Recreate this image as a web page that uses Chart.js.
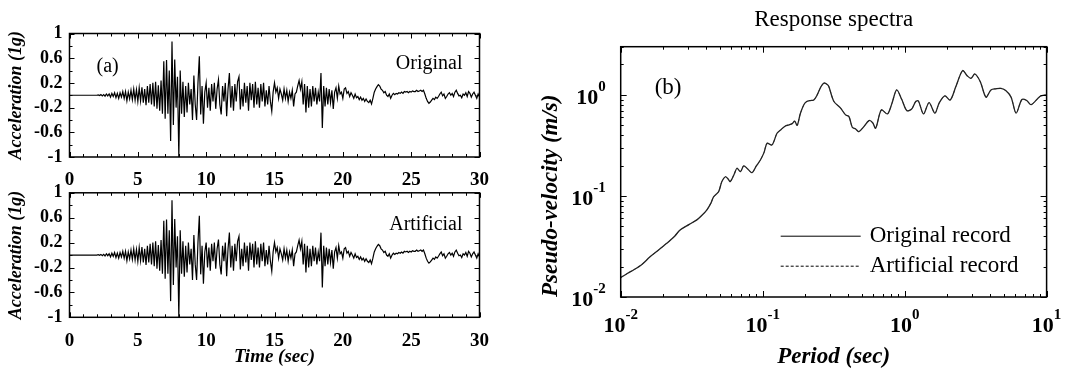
<!DOCTYPE html>
<html>
<head>
<meta charset="utf-8">
<script src="https://cdn.jsdelivr.net/npm/chart.js@4.4.1/dist/chart.umd.min.js"></script>
<style>
  html, body { margin: 0; padding: 0; background: #fff; }
  #wrap { position: relative; width: 1065px; height: 375px; overflow: hidden; }
  canvas { position: absolute; }
</style>
</head>
<body>
<div id="wrap">
  <canvas id="accTop" width="510" height="195" style="left:0;top:0"></canvas>
  <canvas id="accBottom" width="510" height="200" style="left:0;top:175px"></canvas>
  <canvas id="spectrum" width="565" height="375" style="left:500px;top:0"></canvas>
</div>
<script>
// ---- data ----
const timeStep = 0.1; // s, sample spacing of the acceleration records

const originalAcc = [
  0, 0, 0, 0, 0, 0, 0, 0, 0, 0,
  0, 0, 0, 0, 0, 0, 0, 0, 0, 0,
  0, 0.005, -0.005, 0.01, -0.01, 0.01, -0.015, 0.02, -0.01, 0.02,
  -0.03, 0.03, -0.02, 0.04, -0.04, 0.03, -0.05, 0.04, -0.03, 0.06,
  -0.05, 0.06, -0.09, 0.05, -0.06, 0.08, -0.07, 0.1, -0.08, 0.09,
  -0.1, 0.12, -0.09, 0.13, -0.12, 0.1, -0.16, 0.15, -0.12, 0.18,
  -0.15, 0.2, -0.18, 0.22, -0.22, 0.16, -0.25, 0.24, -0.3, 0.55,
  -0.38, 0.57, -0.3, 0.4, -0.74, 0.87, -0.48, 0.58, -0.2, 0.3,
  -1.0, 0.4, -0.3, 0.22, -0.35, 0.15, -0.28, 0.2, -0.15, 0.1,
  -0.4, 0.32, -0.15, -0.4, 0.2, 0.63, -0.31, 0.15, -0.46, 0.05,
  0.2, -0.2, 0.12, -0.25, 0.18, -0.1, 0.2, -0.22, 0.1, 0.25,
  -0.15, -0.31, 0.15, -0.1, 0.2, -0.34, 0.1, 0.36, -0.2, 0.15,
  -0.25, 0.18, -0.1, 0.22, 0.3, -0.23, 0.1, -0.18, 0.2, -0.12,
  0.15, -0.25, 0.2, -0.08, 0.18, -0.2, 0.22, -0.15, 0.12, -0.2,
  0.18, -0.1, 0.2, -0.18, 0.08, -0.15, 0.15, -0.1, -0.26, 0.05,
  0.2, 0.05, 0.12, -0.05, 0.1, 0.02, -0.08, 0.1, -0.05, 0.08,
  -0.1, 0.05, -0.05, 0.08, -0.18, 0.02, 0.05, 0.15, 0.24, 0.1,
  0.22, -0.15, 0.18, -0.28, 0.15, -0.2, 0.1, -0.18, 0.15, -0.1,
  0.12, -0.15, 0.05, -0.1, 0.36, -0.53, 0.15, -0.18, 0.12, -0.15,
  0.1, -0.12, 0.08, -0.22, 0.05, 0.12, -0.05, 0.15, 0.02, 0.05,
  -0.05, 0.1, 0.12, 0.03, 0.06, -0.02, 0.04, 0, -0.05, 0.02,
  -0.04, -0.02, -0.07, -0.03, -0.08, -0.05, -0.1, -0.06, -0.1, -0.12,
  -0.08, -0.14, -0.05, 0.05, 0.1, 0.14, 0.17, 0.15, 0.1, 0.08,
  0.04, 0.06, 0, -0.02, 0.02, -0.05, 0, 0.03, 0.01, 0.03,
  0.02, 0.04, 0.03, 0.05, 0.03, 0.06, 0.05, 0.06, 0.04, 0.06,
  0.05, 0.07, 0.06, 0.06, 0.08, 0.06, 0.07, 0.08, 0.06, 0.08,
  0.02, -0.05, -0.1, -0.13, -0.11, -0.08, -0.05, -0.07, -0.03, -0.05,
  -0.02, 0.02, 0.05, -0.01, 0.02, -0.05, -0.02, 0.02, 0.04, 0,
  0.03, -0.02, 0.05, 0.08, 0.03, -0.01, 0, -0.04, 0.02, 0,
  0.04, -0.02, 0.06, 0.03, -0.03, 0.02, 0.05, 0, -0.05, 0.02,
  -0.03
];

const artificialAcc = [
  0, 0, 0, 0, 0, 0, 0, 0, 0, 0,
  0, 0, 0, 0, 0, 0, 0, 0, 0, 0,
  0, 0.005, -0.005, 0.01, -0.01, 0.012, -0.015, 0.02, -0.01, 0.02,
  -0.03, 0.03, -0.02, 0.04, -0.04, 0.03, -0.05, 0.04, -0.03, 0.06,
  -0.05, 0.06, -0.09, 0.05, -0.06, 0.08, -0.07, 0.1, -0.08, 0.09,
  -0.1, 0.12, -0.09, 0.13, -0.12, 0.1, -0.16, 0.15, -0.12, 0.18,
  -0.15, 0.2, -0.18, 0.22, -0.22, 0.16, -0.25, 0.24, -0.3, 0.55,
  -0.38, 0.57, -0.3, 0.4, -0.74, 0.88, -0.48, 0.58, -0.2, 0.3,
  -1.0, 0.4, -0.3, 0.22, -0.35, 0.15, -0.28, 0.2, -0.15, 0.1,
  -0.4, 0.32, -0.15, -0.4, 0.2, 0.63, -0.31, 0.15, -0.46, 0.05,
  0.2, -0.2, 0.12, -0.25, 0.18, -0.1, 0.2, -0.22, 0.1, 0.25,
  -0.15, -0.31, 0.15, -0.1, 0.2, -0.34, 0.1, 0.36, -0.2, 0.15,
  -0.25, 0.18, -0.1, 0.22, 0.3, -0.23, 0.1, -0.18, 0.2, -0.12,
  0.15, -0.25, 0.2, -0.08, 0.18, -0.2, 0.22, -0.15, 0.12, -0.2,
  0.18, -0.1, 0.2, -0.18, 0.08, -0.15, 0.15, -0.1, -0.26, 0.05,
  0.2, 0.05, 0.12, -0.05, 0.1, 0.02, -0.08, 0.1, -0.05, 0.08,
  -0.1, 0.05, -0.05, 0.08, -0.18, 0.02, 0.05, 0.15, 0.24, 0.1,
  0.22, -0.15, 0.18, -0.28, 0.15, -0.2, 0.1, -0.18, 0.15, -0.1,
  0.12, -0.15, 0.05, -0.1, 0.36, -0.52, 0.15, -0.18, 0.12, -0.15,
  0.1, -0.12, 0.08, -0.22, 0.05, 0.12, -0.05, 0.15, 0.02, 0.05,
  -0.05, 0.1, 0.12, 0.03, 0.06, -0.02, 0.04, 0, -0.05, 0.02,
  -0.04, -0.02, -0.07, -0.03, -0.08, -0.05, -0.1, -0.06, -0.1, -0.12,
  -0.08, -0.14, -0.05, 0.05, 0.1, 0.14, 0.17, 0.15, 0.1, 0.08,
  0.04, 0.06, 0, -0.02, 0.02, -0.05, 0, 0.03, 0.01, 0.03,
  0.02, 0.04, 0.03, 0.05, 0.03, 0.06, 0.05, 0.06, 0.04, 0.06,
  0.05, 0.07, 0.06, 0.06, 0.08, 0.06, 0.07, 0.08, 0.06, 0.08,
  0.02, -0.05, -0.1, -0.13, -0.11, -0.08, -0.05, -0.07, -0.03, -0.05,
  -0.02, 0.02, 0.05, -0.01, 0.02, -0.05, -0.02, 0.02, 0.04, 0,
  0.03, -0.02, 0.05, 0.08, 0.03, -0.01, 0, -0.04, 0.02, 0,
  0.04, -0.02, 0.06, 0.03, -0.03, 0.02, 0.05, 0, -0.05, 0.02,
  -0.03
];

const timeTicks = [0, 5, 10, 15, 20, 25, 30];
const accTicks = [-1, -0.6, -0.2, 0.2, 0.6, 1];

// response spectrum, period (s) vs pseudo-velocity (m/s)
const periods = [
  0.01, 0.0112, 0.0123, 0.0141, 0.0161, 0.0184, 0.0211, 0.024, 0.0262, 0.0302,
  0.0344, 0.0372, 0.0405, 0.0432, 0.0451, 0.0489, 0.0516, 0.0546, 0.0569, 0.0592,
  0.0631, 0.0659, 0.0697, 0.0735, 0.0785, 0.0841, 0.0902, 0.0964, 0.1023, 0.1074,
  0.1164, 0.1262, 0.1349, 0.1445, 0.1531, 0.1614, 0.1679, 0.175, 0.184, 0.195,
  0.2042, 0.2163, 0.2291, 0.2421, 0.257, 0.2698, 0.2851, 0.2924, 0.3177, 0.354,
  0.3837, 0.4055, 0.4276, 0.4519, 0.4764, 0.5129, 0.561, 0.5957, 0.6252, 0.6855,
  0.7568, 0.8128, 0.879, 0.955, 1.035, 1.117, 1.197, 1.25, 1.358, 1.486,
  1.633, 1.75, 1.919, 2.094, 2.296, 2.559, 2.754, 2.931, 3.126, 3.412,
  3.741, 4.055, 4.395, 4.775, 5.176, 5.623, 6.095, 6.699, 7.244, 7.78,
  9.016, 10
];
const psvOriginal = [
  0.0155, 0.0172, 0.0185, 0.021, 0.025, 0.029, 0.034, 0.040, 0.046, 0.052,
  0.058, 0.064, 0.073, 0.085, 0.098, 0.110, 0.139, 0.155, 0.148, 0.139,
  0.165, 0.188, 0.174, 0.198, 0.185, 0.170, 0.198, 0.227, 0.27, 0.332,
  0.320, 0.417, 0.455, 0.493, 0.505, 0.52, 0.55, 0.50, 0.65, 0.80,
  0.86, 0.88, 0.89, 1.0, 1.2, 1.31, 1.27, 1.21, 0.86, 0.74,
  0.634, 0.61, 0.479, 0.46, 0.433, 0.48, 0.557, 0.53, 0.468, 0.71,
  0.648, 0.82, 1.12, 0.9, 0.70, 0.72, 0.86, 0.87, 0.648, 0.84,
  0.66, 0.83, 0.98, 0.89, 1.21, 1.74, 1.55, 1.46, 1.61, 1.35,
  0.95, 1.12, 1.15, 1.16, 1.1, 0.95, 0.66, 0.9, 0.88, 0.8,
  0.97, 1.0
];
const psvArtificial = [
  0.0156, 0.0172, 0.0185, 0.021, 0.025, 0.029, 0.034, 0.040, 0.046, 0.052,
  0.058, 0.064, 0.073, 0.085, 0.098, 0.110, 0.139, 0.155, 0.148, 0.139,
  0.165, 0.188, 0.174, 0.198, 0.185, 0.170, 0.198, 0.227, 0.27, 0.332,
  0.320, 0.417, 0.455, 0.493, 0.505, 0.52, 0.55, 0.50, 0.65, 0.80,
  0.86, 0.88, 0.89, 1.0, 1.2, 1.31, 1.27, 1.21, 0.86, 0.74,
  0.634, 0.61, 0.479, 0.46, 0.433, 0.48, 0.557, 0.53, 0.468, 0.71,
  0.648, 0.82, 1.12, 0.9, 0.70, 0.72, 0.86, 0.87, 0.648, 0.84,
  0.66, 0.83, 0.98, 0.89, 1.21, 1.74, 1.55, 1.46, 1.61, 1.35,
  0.95, 1.12, 1.15, 1.16, 1.1, 0.95, 0.66, 0.9, 0.88, 0.8,
  0.97, 1.0
];
const periodTicks = [0.01, 0.1, 1, 10];
const psvTicks = [0.01, 0.1, 1];

// ---- helpers ----
const SERIF = "'Liberation Serif', 'Times New Roman', Times, serif";

// inward tick marks on all four sides plus the box
function framePlugin(xMarks, yMarks) {
  return {
    id: 'frame',
    afterDatasetsDraw(chart) {
      const { ctx, chartArea: a } = chart;
      const x = chart.scales.x, y = chart.scales.y;
      ctx.save();
      ctx.strokeStyle = '#000';
      ctx.lineWidth = 1;
      ctx.beginPath();
      xMarks.forEach(([v, len]) => {
        const px = Math.round(x.getPixelForValue(v)) + 0.5;
        ctx.moveTo(px, a.bottom); ctx.lineTo(px, a.bottom - len);
        ctx.moveTo(px, a.top); ctx.lineTo(px, a.top + len);
      });
      yMarks.forEach(([v, len]) => {
        const py = Math.round(y.getPixelForValue(v)) + 0.5;
        ctx.moveTo(a.left, py); ctx.lineTo(a.left + len, py);
        ctx.moveTo(a.right, py); ctx.lineTo(a.right - len, py);
      });
      ctx.stroke();
      ctx.lineWidth = 1.5;
      ctx.strokeRect(a.left, a.top, a.right - a.left, a.bottom - a.top);
      ctx.restore();
    }
  };
}

function textPlugin(items) {
  return {
    id: 'panelText',
    afterDraw(chart) {
      const { ctx, chartArea: a } = chart;
      ctx.save();
      ctx.fillStyle = '#000';
      ctx.textBaseline = 'alphabetic';
      items.forEach(it => {
        ctx.font = it.font;
        ctx.textAlign = it.align || 'left';
        ctx.fillText(it.text, it.x(a), it.y(a));
      });
      ctx.restore();
    }
  };
}

// nudge layout padding until the plot box sits where the figure has it
function pinArea(chart, pad, want) {
  for (let i = 0; i < 4; i++) {
    const a = chart.chartArea;
    pad.left += want.left - a.left;
    pad.top += want.top - a.top;
    pad.right += a.right - want.right;
    pad.bottom += a.bottom - want.bottom;
    chart.update('none');
  }
}

const linMarksX = [];
for (let t = 0; t <= 30; t++) linMarksX.push([t, t % 5 === 0 ? 5 : 3]);
const linMarksY = [];
for (let k = -5; k <= 5; k++) {
  const v = Math.round(k * 0.2 * 10) / 10;
  linMarksY.push([v, accTicks.includes(v) ? 5 : 3]);
}

function accChart(id, values, label, showTitle, want) {
  const pad = { left: 0, top: 0, right: 0, bottom: 0 };
  const chart = new Chart(document.getElementById(id), {
    type: 'line',
    data: {
      datasets: [{
        label: label,
        data: values.map((a, i) => ({ x: Math.round(i * timeStep * 10) / 10, y: a })),
        borderColor: '#000',
        borderWidth: 1.2,
        pointRadius: 0,
        tension: 0
      }]
    },
    options: {
      responsive: false,
      animation: false,
      events: [],
      layout: { padding: pad },
      plugins: { legend: { display: false }, tooltip: { enabled: false } },
      scales: {
        x: {
          type: 'linear', min: 0, max: 30,
          afterBuildTicks: s => { s.ticks = timeTicks.map(v => ({ value: v })); },
          afterFit: s => { s.height = showTitle ? 58 : 38; },
          grid: { display: false, drawTicks: false },
          border: { display: false },
          ticks: { autoSkip: false, maxRotation: 0, padding: 12, color: '#000',
                   font: { family: SERIF, size: 19, weight: 'bold' } },
          title: { display: showTitle, text: 'Time (sec)', color: '#000',
                   padding: { top: 0, bottom: 7 },
                   font: { family: SERIF, size: 19, weight: 'bold', style: 'italic' } }
        },
        y: {
          min: -1, max: 1,
          afterBuildTicks: s => { s.ticks = accTicks.map(v => ({ value: v })); },
          afterFit: s => { s.width = 69.5; },
          grid: { display: false, drawTicks: false },
          border: { display: false },
          ticks: { autoSkip: false, padding: 7, color: '#000',
                   callback: v => String(v),
                   font: { family: SERIF, size: 18, weight: 'bold' } },
          title: { display: true, text: 'Acceleration (1g)', color: '#000',
                   padding: { top: 6, bottom: 0 },
                   font: { family: SERIF, size: 18, weight: 'bold', style: 'italic' } }
        }
      }
    },
    plugins: [
      framePlugin(linMarksX, linMarksY),
      textPlugin(showTitle ? [
        { text: 'Artificial', font: `20px ${SERIF}`, align: 'right', x: a => a.right - 17, y: a => a.top + 37 }
      ] : [
        { text: '(a)', font: `20px ${SERIF}`, x: a => a.left + 27, y: a => a.top + 38 },
        { text: 'Original', font: `20px ${SERIF}`, align: 'right', x: a => a.right - 17, y: a => a.top + 35 }
      ])
    ]
  });
  pinArea(chart, pad, want);
  return chart;
}

accChart('accTop', originalAcc, 'Original', false, { left: 69.5, top: 33.5, right: 479.5, bottom: 157 });
accChart('accBottom', artificialAcc, 'Artificial', true, { left: 69.5, top: 18.3, right: 479.5, bottom: 142.3 });

// ---- response spectrum ----
const logMarksX = [], logMarksY = [];
for (let k = -2; k <= 0; k++) {
  for (let m = 1; m <= 9; m++) {
    const v = m * Math.pow(10, k);
    logMarksX.push([v, m === 1 ? 6 : 3]);
    if (v <= 3) logMarksY.push([v, m === 1 ? 6 : 3]);
  }
}
logMarksX.push([10, 6]);

function powerLabel(ctx, v, x, y, align) {
  const exp = String(Math.round(Math.log10(v)));
  ctx.font = `bold 22px ${SERIF}`;
  const wb = ctx.measureText('10').width;
  ctx.font = `bold 15px ${SERIF}`;
  const we = ctx.measureText(exp).width;
  const start = align === 'right' ? x - wb - we : x - (wb + we) / 2;
  ctx.font = `bold 22px ${SERIF}`;
  ctx.fillText('10', start, y);
  ctx.font = `bold 15px ${SERIF}`;
  ctx.fillText(exp, start + wb, y - 11);
}

const logLabels = {
  id: 'logLabels',
  afterDraw(chart) {
    const { ctx, chartArea: a } = chart;
    ctx.save();
    ctx.fillStyle = '#000';
    ctx.textAlign = 'left';
    ctx.textBaseline = 'middle';
    periodTicks.forEach(v => powerLabel(ctx, v, chart.scales.x.getPixelForValue(v), a.bottom + 29, 'center'));
    psvTicks.forEach(v => powerLabel(ctx, v, a.left - 15, chart.scales.y.getPixelForValue(v) + 3, 'right'));
    ctx.restore();
  }
};

const legendIn = {
  id: 'legendIn',
  afterDraw(chart) {
    const { ctx, chartArea: a } = chart;
    ctx.save();
    chart.data.datasets.forEach((ds, i) => {
      const yy = a.top + 189.5 + i * 30;
      const x0 = a.left + 160;
      ctx.strokeStyle = '#000';
      ctx.lineWidth = 1;
      ctx.setLineDash(ds.borderDash || []);
      ctx.beginPath();
      ctx.moveTo(x0, yy);
      ctx.lineTo(x0 + 80, yy);
      ctx.stroke();
      ctx.setLineDash([]);
      ctx.fillStyle = '#000';
      ctx.font = `23px ${SERIF}`;
      ctx.textBaseline = 'middle';
      ctx.fillText(ds.label, x0 + 89, yy);
    });
    ctx.restore();
  }
};

const specPad = { left: 0, top: 0, right: 0, bottom: 0 };
const spectrum = new Chart(document.getElementById('spectrum'), {
  type: 'line',
  data: {
    datasets: [
      { label: 'Original record', data: periods.map((p, i) => ({ x: p, y: psvOriginal[i] })),
        borderColor: '#222', borderWidth: 1.3, pointRadius: 0, tension: 0.3 },
      { label: 'Artificial record', data: periods.map((p, i) => ({ x: p, y: psvArtificial[i] })),
        borderColor: '#444', borderWidth: 0.8, borderDash: [3, 2], pointRadius: 0, tension: 0.3 }
    ]
  },
  options: {
    responsive: false,
    animation: false,
    events: [],
    layout: { padding: specPad },
    plugins: {
      legend: { display: false },
      tooltip: { enabled: false },
      title: { display: true, text: 'Response spectra', color: '#000', fullSize: false,
               padding: { top: 6, bottom: 13 },
               font: { family: SERIF, size: 23, weight: 'normal' } }
    },
    scales: {
      x: {
        type: 'logarithmic', min: 0.01, max: 10,
        afterFit: s => { s.height = 78; },
        grid: { display: false, drawTicks: false },
        border: { display: false },
        ticks: { display: false },
        title: { display: true, text: 'Period (sec)', color: '#000',
                 padding: { top: 0, bottom: 4 },
                 font: { family: SERIF, size: 23, weight: 'bold', style: 'italic' } }
      },
      y: {
        type: 'logarithmic', min: 0.01, max: 3,
        afterFit: s => { s.width = 120.7; },
        grid: { display: false, drawTicks: false },
        border: { display: false },
        ticks: { display: false },
        title: { display: true, text: 'Pseudo-velocity (m/s)', color: '#000', align: 'start',
                 padding: { top: 37, bottom: 0 },
                 font: { family: SERIF, size: 23, weight: 'bold', style: 'italic' } }
      }
    }
  },
  plugins: [
    framePlugin(logMarksX, logMarksY),
    logLabels,
    legendIn,
    textPlugin([{ text: '(b)', font: `23px ${SERIF}`, x: a => a.left + 34, y: a => a.top + 47 }])
  ]
});
pinArea(spectrum, specPad, { left: 120.7, top: 46.7, right: 546.6, bottom: 297 });
</script>
</body>
</html>
